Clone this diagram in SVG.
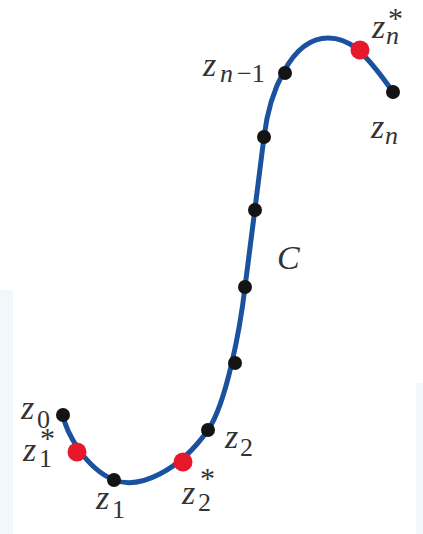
<svg xmlns="http://www.w3.org/2000/svg" width="423" height="534" viewBox="0 0 423 534">
<style>
text{font-family:'Liberation Serif','Times New Roman','DejaVu Serif',serif;fill:#333;font-size:34px;font-style:italic;}
.s{font-size:26px;font-style:normal;}
.si{font-size:26px;font-style:italic;}
.st{font-size:30px;font-style:normal;}
.curve{fill:none;stroke:#1b52a0;stroke-width:5;stroke-linecap:round;}
.pt{fill:#141414;}
.sp{fill:#e8182c;}
</style>
<rect x="0" y="0" width="423" height="534" fill="#ffffff"/>
<rect x="0" y="290" width="13" height="244" fill="#f1f8fb"/>
<rect x="416" y="383" width="7" height="151" fill="#f1f8fb"/>
<g id="connectors">
<path class="curve" d="M63,415 C66,432 85,468 114,480 C140,490 180,470 208,430 C226,404 240,330 245,287 C250,245 259,180 264,137 C269,95 290,38 328,38 C348,38 362,48 393,92"/>
</g>
<g id="z0"><circle class="pt" cx="63" cy="415" r="7"/>
<text x="21" y="419">z<tspan class="s" x="37" y="428">0</tspan></text></g>
<g id="z1star"><circle class="sp" cx="77" cy="452" r="9.5"/>
<text x="23" y="461">z<tspan class="s" x="39" y="467">1</tspan><tspan class="st" x="40" y="448">*</tspan></text></g>
<g id="z1"><circle class="pt" cx="114" cy="480" r="7"/>
<text x="96" y="509">z<tspan class="s" x="112" y="518">1</tspan></text></g>
<g id="z2star"><circle class="sp" cx="183" cy="462" r="9.5"/>
<text x="182" y="504">z<tspan class="s" x="198" y="511">2</tspan><tspan class="st" x="200" y="488">*</tspan></text></g>
<g id="z2"><circle class="pt" cx="208" cy="430" r="7"/>
<text x="225" y="448">z<tspan class="s" x="240" y="456">2</tspan></text></g>
<g id="p3"><circle class="pt" cx="235" cy="363" r="7"/></g>
<g id="p4"><circle class="pt" cx="245" cy="287" r="7"/></g>
<g id="p5"><circle class="pt" cx="255" cy="210" r="7"/></g>
<g id="p6"><circle class="pt" cx="264" cy="137" r="7"/></g>
<g id="zn1"><circle class="pt" cx="285" cy="73" r="7"/>
<text x="203" y="76">z<tspan class="si" x="220" y="82">n</tspan><tspan class="s" x="237" y="82">−1</tspan></text></g>
<g id="znstar"><circle class="sp" cx="360" cy="50" r="9.5"/>
<text x="372" y="38">z<tspan class="si" x="386" y="44">n</tspan><tspan class="st" x="388" y="28">*</tspan></text></g>
<g id="zn"><circle class="pt" cx="393" cy="92" r="7"/>
<text x="371" y="138">z<tspan class="si" x="385" y="144">n</tspan></text></g>
<g id="C"><text x="277" y="269">C</text></g>
</svg>
